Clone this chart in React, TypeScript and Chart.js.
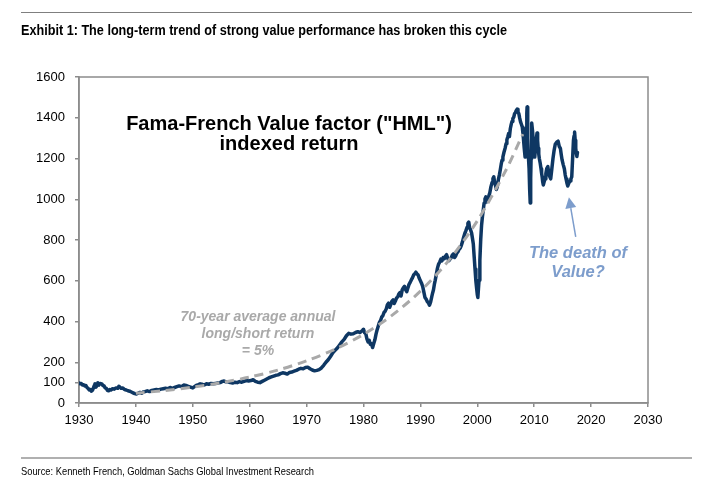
import React, { useEffect, useRef } from "react";
import { Chart, registerables } from "chart.js";

Chart.register(...registerables);

// ---- Data: [year, indexed value] ----
const HML_SERIES: [number, number][] = [
  [1930.0, 98], [1930.2, 94], [1930.4, 96], [1930.6, 88], [1930.8, 90], [1931.0, 84], [1931.2, 86], [1931.4, 76],
  [1931.6, 72], [1931.8, 64], [1932.0, 66], [1932.2, 58], [1932.4, 64], [1932.5, 72], [1932.7, 86], [1932.8, 94],
  [1933.0, 78], [1933.2, 92], [1933.3, 100], [1933.5, 88], [1933.7, 96], [1934.0, 94], [1934.2, 86], [1934.4, 84],
  [1934.6, 74], [1934.8, 72], [1935.0, 62], [1935.2, 60], [1935.4, 66], [1935.6, 64], [1935.9, 70], [1936.2, 68],
  [1936.5, 74], [1936.8, 72], [1937.0, 82], [1937.2, 78], [1937.4, 72], [1937.7, 74], [1938.0, 66], [1938.3, 64],
  [1938.6, 60], [1938.9, 58], [1939.2, 54], [1939.5, 50], [1939.8, 46], [1940.1, 44], [1940.4, 48], [1940.7, 52],
  [1941.0, 48], [1941.3, 54], [1941.6, 56], [1942.0, 60], [1942.4, 56], [1942.8, 62], [1943.2, 64], [1943.6, 66],
  [1944.0, 64], [1944.4, 68], [1944.8, 70], [1945.2, 72], [1945.6, 70], [1946.0, 76], [1946.4, 72], [1946.8, 76],
  [1947.2, 80], [1947.6, 84], [1948.0, 80], [1948.4, 88], [1948.8, 86], [1949.2, 82], [1949.6, 78], [1950.0, 74],
  [1950.3, 80], [1950.6, 86], [1951.0, 90], [1951.3, 94], [1951.6, 92], [1952.0, 88], [1952.4, 94], [1952.8, 92],
  [1953.2, 96], [1953.6, 94], [1954.0, 96], [1954.4, 98], [1954.8, 100], [1955.2, 106], [1955.5, 108], [1955.8, 104],
  [1956.2, 104], [1956.6, 100], [1957.0, 98], [1957.4, 102], [1957.8, 100], [1958.2, 105], [1958.6, 102], [1959.0, 106],
  [1959.4, 110], [1959.8, 108], [1960.2, 110], [1960.6, 114], [1961.0, 106], [1961.4, 102], [1961.8, 100], [1962.2, 106],
  [1962.6, 112], [1963.0, 118], [1963.4, 124], [1963.8, 128], [1964.2, 132], [1964.6, 136], [1965.0, 138], [1965.4, 144],
  [1965.8, 148], [1966.2, 146], [1966.6, 142], [1967.0, 150], [1967.4, 152], [1967.8, 156], [1968.2, 160], [1968.6, 166],
  [1969.0, 170], [1969.4, 168], [1969.8, 174], [1970.2, 176], [1970.6, 168], [1971.0, 162], [1971.4, 158], [1971.8, 160],
  [1972.2, 164], [1972.6, 172], [1973.0, 185], [1973.4, 200], [1973.8, 212], [1974.2, 228], [1974.6, 246], [1975.0, 258],
  [1975.4, 270], [1975.8, 285], [1976.2, 300], [1976.6, 312], [1977.0, 330], [1977.4, 342], [1977.8, 338], [1978.2, 340],
  [1978.6, 346], [1979.0, 350], [1979.4, 346], [1979.8, 356],
  [1980.0, 362], [1980.2, 345], [1980.4, 340], [1980.6, 315], [1980.8, 300], [1981.0, 308], [1981.2, 288], [1981.4, 290],
  [1981.6, 272], [1981.8, 292], [1982.0, 310], [1982.2, 338], [1982.4, 360], [1982.6, 378], [1982.8, 396], [1983.0, 405],
  [1983.2, 422], [1983.4, 428], [1983.6, 444], [1983.8, 450], [1984.0, 462], [1984.2, 482], [1984.4, 490], [1984.6, 470],
  [1984.8, 484], [1985.0, 500], [1985.2, 506], [1985.4, 488], [1985.6, 500], [1985.8, 515], [1986.0, 520], [1986.2, 535],
  [1986.4, 542], [1986.6, 525], [1986.8, 555], [1987.0, 565], [1987.2, 572], [1987.4, 556], [1987.6, 546], [1987.8, 565],
  [1988.0, 582], [1988.2, 592], [1988.4, 604], [1988.6, 614], [1988.8, 628], [1989.0, 634], [1989.2, 642], [1989.4, 634],
  [1989.6, 628], [1989.8, 612], [1990.0, 600], [1990.2, 588], [1990.4, 572], [1990.6, 545], [1990.8, 518], [1991.0, 510],
  [1991.2, 498], [1991.4, 492], [1991.6, 480], [1991.8, 496], [1992.0, 522], [1992.15, 540], [1992.3, 556], [1992.45, 582],
  [1992.6, 602], [1992.8, 632], [1993.0, 662], [1993.2, 682], [1993.4, 692], [1993.6, 706], [1993.8, 698], [1994.0, 714],
  [1994.2, 708], [1994.4, 720], [1994.6, 728], [1994.8, 710], [1995.0, 698], [1995.2, 706], [1995.4, 712], [1995.6, 726],
  [1995.8, 732], [1996.0, 714], [1996.2, 722], [1996.4, 736], [1996.6, 742], [1996.8, 754], [1997.0, 760], [1997.2, 774],
  [1997.4, 792], [1997.6, 814], [1997.8, 832], [1998.0, 846], [1998.2, 862], [1998.35, 882], [1998.5, 888], [1998.65, 860],
  [1998.8, 852], [1999.0, 834], [1999.15, 808], [1999.3, 780], [1999.45, 718], [1999.6, 658], [1999.75, 598], [1999.9, 558],
  [2000.0, 532], [2000.1, 518], [2000.2, 560], [2000.3, 602], [2000.45, 700], [2000.6, 802], [2000.75, 872], [2000.9, 914],
  [2001.05, 948], [2001.2, 982], [2001.35, 1002], [2001.5, 1012], [2001.7, 988], [2001.9, 1002], [2002.05, 1018], [2002.2, 1032],
  [2002.4, 1062], [2002.6, 1082], [2002.75, 1102], [2002.9, 1110], [2003.05, 1082], [2003.2, 1068], [2003.35, 1048], [2003.5, 1060],
  [2003.7, 1096], [2003.9, 1122], [2004.05, 1146], [2004.2, 1172], [2004.35, 1192], [2004.5, 1208], [2004.7, 1232], [2004.9, 1252],
  [2005.05, 1272], [2005.2, 1292], [2005.35, 1306], [2005.5, 1322], [2005.65, 1308], [2005.8, 1346], [2005.95, 1366], [2006.1, 1382],
  [2006.25, 1396], [2006.4, 1402], [2006.55, 1420], [2006.7, 1426], [2006.85, 1436], [2007.0, 1442], [2007.15, 1428], [2007.3, 1420],
  [2007.45, 1398], [2007.6, 1380], [2007.75, 1368], [2007.9, 1355], [2008.0, 1328], [2008.1, 1300], [2008.25, 1250], [2008.4, 1207],
  [2008.5, 1280], [2008.6, 1350], [2008.7, 1420], [2008.75, 1453], [2008.82, 1380], [2008.9, 1300], [2009.0, 1200], [2009.1, 1150],
  [2009.2, 1050], [2009.3, 982], [2009.38, 1100], [2009.45, 1200], [2009.52, 1300], [2009.6, 1374], [2009.7, 1338], [2009.8, 1300],
  [2009.95, 1248], [2010.1, 1207], [2010.2, 1242], [2010.3, 1280], [2010.4, 1302], [2010.5, 1325], [2010.6, 1288], [2010.7, 1250],
  [2010.8, 1222], [2010.9, 1200], [2011.05, 1178], [2011.2, 1150], [2011.3, 1128], [2011.4, 1109], [2011.5, 1085], [2011.6, 1070],
  [2011.75, 1086], [2011.9, 1100], [2012.05, 1126], [2012.2, 1150], [2012.4, 1160], [2012.6, 1120], [2012.75, 1110], [2012.9, 1100],
  [2013.1, 1150], [2013.3, 1200], [2013.5, 1240], [2013.7, 1270], [2013.95, 1280], [2014.2, 1285], [2014.4, 1260], [2014.6, 1250],
  [2014.75, 1220], [2014.9, 1193], [2015.1, 1170], [2015.3, 1150], [2015.45, 1120], [2015.6, 1100], [2015.75, 1080], [2015.9, 1065],
  [2016.1, 1080], [2016.3, 1090], [2016.45, 1100], [2016.6, 1110], [2016.75, 1200], [2016.9, 1290], [2017.0, 1310], [2017.1, 1330],
  [2017.2, 1290], [2017.3, 1250], [2017.4, 1225], [2017.5, 1210], [2017.6, 1230],
];

const TREND_YEARS: number[] = [1940, 1945, 1950, 1955, 1960, 1965, 1970, 1975, 1980, 1985, 1990, 1995, 2000, 2005, 2008];
const TREND_VALUES: number[] = [48, 61, 78, 100, 127, 162, 207, 264, 337, 430, 549, 700, 894, 1141, 1320];

const X_TICKS: number[] = [1930, 1940, 1950, 1960, 1970, 1980, 1990, 2000, 2010, 2020, 2030];
const Y_TICKS: number[] = [0, 100, 200, 400, 600, 800, 1000, 1200, 1400, 1600];

const ARROW_FROM: number[] = [2017.3, 815];
const ARROW_TO: number[] = [2016.1, 1010];

const TITLE = "Exhibit 1: The long-term trend of strong value performance has broken this cycle";
const SOURCE = "Source: Kenneth French, Goldman Sachs Global Investment Research";
const MAIN_LABEL = ["Fama-French Value factor (\"HML\")", "indexed return"];
const TREND_LABEL = ["70-year average annual", "long/short return", "= 5%"];
const DEATH_LABEL = ["The death of", "Value?"];

const NAVY = "#0e3763";
const TREND_GRAY = "#a9a9a9";
const STEEL = "#7d9dcc";
const FRAME = "#8c8c8c";
const ARIAL = "'Liberation Sans', Arial, sans-serif";

const framePlugin = {
  id: "frameAndArrow",
  beforeDatasetsDraw(chart: any) {
    const { ctx, chartArea: a } = chart;
    ctx.save();
    ctx.strokeStyle = FRAME;
    ctx.lineWidth = 1.5;
    ctx.strokeRect(a.left, a.top, a.right - a.left, a.bottom - a.top);
    ctx.restore();
  },
  afterDatasetsDraw(chart: any) {
    const { ctx } = chart;
    const xs = chart.scales.x;
    const ys = chart.scales.y;
    const x1 = xs.getPixelForValue(ARROW_FROM[0]);
    const y1 = ys.getPixelForValue(ARROW_FROM[1]);
    const x2 = xs.getPixelForValue(ARROW_TO[0]);
    const y2 = ys.getPixelForValue(ARROW_TO[1]);
    const ang = Math.atan2(y2 - y1, x2 - x1);
    const headLen = 11;
    const headHalf = 5.5;
    const bx = x2 - headLen * Math.cos(ang);
    const by = y2 - headLen * Math.sin(ang);
    ctx.save();
    ctx.strokeStyle = STEEL;
    ctx.fillStyle = STEEL;
    ctx.lineWidth = 1.5;
    ctx.beginPath();
    ctx.moveTo(x1, y1);
    ctx.lineTo(bx, by);
    ctx.stroke();
    ctx.beginPath();
    ctx.moveTo(x2, y2);
    ctx.lineTo(bx + headHalf * Math.sin(ang), by - headHalf * Math.cos(ang));
    ctx.lineTo(bx - headHalf * Math.sin(ang), by + headHalf * Math.cos(ang));
    ctx.closePath();
    ctx.fill();
    ctx.restore();
  },
};

let measureCtx: CanvasRenderingContext2D | null = null;
function measure(text: string, font: string): number {
  if (!measureCtx && typeof document !== "undefined") {
    measureCtx = document.createElement("canvas").getContext("2d");
  }
  if (!measureCtx) return 0;
  measureCtx.font = font;
  return measureCtx.measureText(text).width;
}

function FitText(props: { text: string; font: string; width: number; left: number; top: number; lineHeight: number; color?: string }) {
  const w = measure(props.text, props.font);
  const scale = w > 0 ? props.width / w : 1;
  return (
    <div
      style={{
        position: "absolute",
        left: props.left,
        top: props.top,
        font: props.font,
        lineHeight: props.lineHeight + "px",
        color: props.color || "#000",
        whiteSpace: "nowrap",
        transform: `scaleX(${scale})`,
        transformOrigin: "left top",
      }}
    >
      {props.text}
    </div>
  );
}

function ChartCanvas() {
  const ref = useRef<HTMLCanvasElement | null>(null);
  useEffect(() => {
    if (!ref.current) return;
    const hml = HML_SERIES.map(([x, y]) => ({ x, y }));
    const trend = TREND_YEARS.map((x, i) => ({ x, y: TREND_VALUES[i] }));
    const tickFont = { family: ARIAL, size: 13 };
    const chart = new Chart(ref.current, {
      type: "line",
      data: {
        datasets: [
          {
            data: trend,
            borderColor: TREND_GRAY,
            borderWidth: 3,
            borderDash: [9, 6],
            pointRadius: 0,
            tension: 0.3,
            fill: false,
            order: 0,
          },
          {
            data: hml,
            borderColor: NAVY,
            borderWidth: 3.5,
            borderJoinStyle: "round",
            borderCapStyle: "round",
            pointRadius: 0,
            tension: 0,
            fill: false,
            order: 1,
          },
        ],
      },
      options: {
        animation: false,
        responsive: true,
        maintainAspectRatio: false,
        events: [],
        layout: { padding: { left: 0, top: 77, right: 61, bottom: 62 } },
        plugins: { legend: { display: false }, tooltip: { enabled: false }, title: { display: false } },
        scales: {
          x: {
            type: "linear",
            min: 1930,
            max: 2030,
            afterBuildTicks: (s: any) => {
              s.ticks = X_TICKS.map((v) => ({ value: v }));
            },
            afterFit: (s: any) => {
              s.height = 30;
            },
            ticks: {
              autoSkip: false,
              maxRotation: 0,
              padding: 6,
              color: "#000",
              font: tickFont,
              callback: (v: any) => String(v),
            },
            grid: { drawOnChartArea: false, drawTicks: true, tickLength: 4, color: FRAME, lineWidth: 1.5 },
            border: { display: true, color: FRAME, width: 1.5 },
          },
          y: {
            type: "linear",
            min: 0,
            max: 1600,
            afterBuildTicks: (s: any) => {
              s.ticks = Y_TICKS.map((v) => ({ value: v }));
            },
            afterFit: (s: any) => {
              s.width = 79;
            },
            ticks: {
              autoSkip: false,
              padding: 10,
              color: "#000",
              font: tickFont,
              callback: (v: any) => String(v),
            },
            grid: { drawOnChartArea: false, drawTicks: true, tickLength: 4, color: FRAME, lineWidth: 1.5 },
            border: { display: true, color: FRAME, width: 1.5 },
          },
        },
      },
      plugins: [framePlugin],
    } as any);
    return () => chart.destroy();
  }, []);
  return <canvas ref={ref} />;
}

export default function App() {
  return (
    <div style={{ position: "absolute", left: 0, top: 0, width: 709, height: 495, background: "#fff", overflow: "hidden" }}>
      <div style={{ position: "absolute", left: 0, top: 0, width: 709, height: 495 }}>
        <ChartCanvas />
      </div>
      <div style={{ position: "absolute", left: 21, top: 12, width: 671, height: 0, borderTop: "1.5px solid #7f7f7f" }} />
      <FitText text={TITLE} font={`bold 14px ${ARIAL}`} width={486} left={21} top={21} lineHeight={18} />
      <div style={{ position: "absolute", left: 21, top: 457, width: 671, height: 0, borderTop: "2px solid #b0b0b0" }} />
      <FitText text={SOURCE} font={`10.5px ${ARIAL}`} width={293} left={21} top={464} lineHeight={14} />
      <div style={{ position: "absolute", left: 89, top: 113, width: 400, textAlign: "center", fontFamily: ARIAL, fontWeight: "bold", fontSize: 20, lineHeight: "20px", color: "#000" }}>
        {MAIN_LABEL.map((t, i) => <div key={i}>{t}</div>)}
      </div>
      <div style={{ position: "absolute", left: 133, top: 308, width: 250, textAlign: "center", fontFamily: ARIAL, fontWeight: "bold", fontStyle: "italic", fontSize: 14, lineHeight: "17px", color: TREND_GRAY }}>
        {TREND_LABEL.map((t, i) => <div key={i}>{t}</div>)}
      </div>
      <div style={{ position: "absolute", left: 498, top: 243, width: 160, textAlign: "center", fontFamily: ARIAL, fontWeight: "bold", fontStyle: "italic", fontSize: 16.5, lineHeight: "19px", color: STEEL }}>
        {DEATH_LABEL.map((t, i) => <div key={i}>{t}</div>)}
      </div>
    </div>
  );
}
